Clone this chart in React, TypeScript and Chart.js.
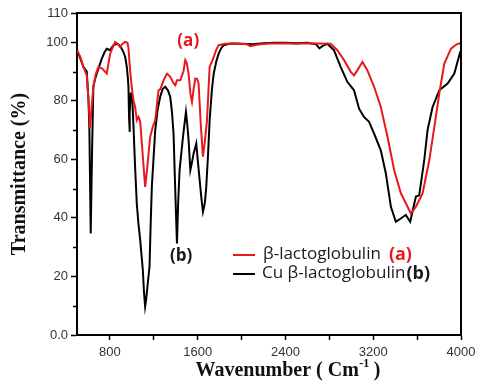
import React, { useEffect, useRef } from 'react';
import { Chart, registerables } from 'chart.js';

Chart.register(...registerables);

// β-lactoglobulin (a)
const wavenumberA = [
  500, 530, 558, 589, 605, 619, 634, 649, 670, 695, 730, 771, 802, 847, 870, 893, 915, 939, 960, 969,
  984, 999, 1015, 1030, 1045, 1060, 1076, 1098, 1121, 1140, 1152, 1167, 1190, 1213, 1243, 1260, 1289,
  1320, 1350, 1380, 1396, 1411, 1441, 1470, 1487, 1500, 1517, 1535, 1548, 1563, 1578, 1595, 1608, 1628,
  1648, 1665, 1685, 1700, 1709, 1725, 1746, 1770, 1791, 1850, 1950, 2050, 2080, 2150, 2250, 2400, 2500,
  2600, 2700, 2812, 2873, 2934, 2995, 3025, 3055, 3080, 3102, 3147, 3208, 3269, 3330, 3391, 3452, 3513,
  3543, 3589, 3650, 3711, 3757, 3802, 3848, 3909, 3960, 4000,
];
const transmittanceA = [
  97.3, 95, 91.6, 88.7, 80, 70.6, 78, 84.8, 89, 91.6, 91, 89.3, 96.1, 100.1, 99.5, 98.4, 99.5, 100.1, 99.8, 98,
  90.4, 84.8, 80, 77.9, 73.4, 74.5, 73, 62, 50.6, 57, 62, 67.7, 71, 73.4, 83.6, 84, 87,
  89.3, 88.2, 86, 85.3, 87, 87, 90, 93.9, 93, 89.3, 82, 79.6, 84, 87.6, 87.5, 85.9, 72,
  60.9, 66, 73.4, 85, 91.6, 93, 95, 97.5, 99, 99.5, 99.6, 99.3, 98.7, 99.2, 99.6, 99.7, 99.5,
  99.7, 99.6, 99.5, 97.3, 93.9, 89.9, 88.7, 90.4, 92, 93.3, 90.4, 84.8, 77.9, 67.7, 56.3, 48.4, 43.8,
  41.5, 43.8, 48.4, 59.7, 71.1, 82.5, 92.7, 97.8, 99.3, 99.8,
];

// Cu β-lactoglobulin (b)
const wavenumberB = [
  500, 530, 558, 589, 605, 613, 625, 637, 649, 665, 680, 700, 726, 750, 771, 802, 832, 863, 885, 908,
  925, 939, 954, 963, 969, 974, 978, 983, 990, 1000, 1007, 1015, 1030, 1045, 1060, 1076, 1100, 1110,
  1121, 1130, 1142, 1161, 1170, 1182, 1213, 1235, 1258, 1280, 1304, 1330, 1350, 1366, 1380, 1395, 1411,
  1422, 1435, 1466, 1493, 1505, 1517, 1533, 1548, 1563, 1587, 1600, 1618, 1633, 1648, 1665, 1678, 1695,
  1709, 1730, 1746, 1770, 1791, 1815, 1837, 1900, 2000, 2100, 2200, 2300, 2400, 2500, 2600, 2680, 2710,
  2740, 2782, 2842, 2903, 2964, 3025, 3071, 3116, 3162, 3208, 3269, 3315, 3361, 3406, 3452, 3497, 3537,
  3589, 3619, 3665, 3695, 3741, 3802, 3878, 3939, 3994, 4000,
];
const transmittanceB = [
  97.3, 94.5, 91.6, 90, 80, 70, 34.7, 62, 84.8, 87.5, 89.3, 91.5, 94.4, 96.5, 97.8, 97.3, 99, 99.5, 99, 97.8,
  96.5, 95, 91.6, 88, 84.8, 75, 69.4, 76, 82.5, 82.5, 78, 71.1, 57, 44.9, 38, 32.4, 22.2, 15,
  9.7, 12, 16.5, 23.3, 36, 50.6, 70, 77, 81.3, 84, 84.8, 83.5, 81.3, 76, 68.8, 50, 31.3,
  45, 56.3, 67.7, 76.2, 72, 66.6, 56.3, 59, 62, 65.4, 60, 52.9, 47, 42.1, 45, 50.6, 62,
  73.4, 84, 89.3, 93.5, 96.1, 98, 99, 99.6, 99.5, 99.3, 99.7, 99.8, 99.8, 99.7, 99.8, 99.3, 97.9,
  98.8, 99.5, 97.3, 91.6, 86.5, 83.6, 77.3, 74.5, 72.8, 68.8, 63.1, 55.2, 43.8, 38.7, 39.8, 41, 38.7,
  47.3, 47.7, 59.7, 70, 77.9, 83.6, 85.9, 89.3, 96.8, 97,
];

const xTickValues = [800, 1200, 1600, 2000, 2400, 2800, 3200, 3600, 4000];
const xLabelledTicks = [800, 1600, 2400, 3200, 4000];
const yTickValues = [0, 20, 40, 60, 80, 100, 110];
const yMinorTicks = [10, 30, 50, 70, 90];
const seriesLabels = ['β-lactoglobulin', 'Cu β-lactoglobulin'];
const seriesTags = ['(a)', '(b)'];
const xTitle = 'Wavenumber ( Cm';
const xTitleSup = '-1';
const yTitle = 'Transmittance (%)';

const RED = '#e8191e';
const BLACK = '#000000';

const decor = {
  id: 'decor',
  afterDraw(chart: any) {
    const { ctx, chartArea: a, scales } = chart;
    const xs = scales.x;
    const ys = scales.y;
    ctx.save();
    // frame top and right
    ctx.strokeStyle = '#000';
    ctx.lineWidth = 2;
    ctx.beginPath();
    ctx.moveTo(a.left, a.top);
    ctx.lineTo(a.right, a.top);
    ctx.lineTo(a.right, a.bottom);
    ctx.stroke();
    // minor y ticks
    ctx.lineWidth = 1.5;
    for (const v of yMinorTicks) {
      const py = Math.round(ys.getPixelForValue(v)) + 0.5;
      ctx.beginPath();
      ctx.moveTo(a.left - 4, py);
      ctx.lineTo(a.left, py);
      ctx.stroke();
    }
    // peak tags
    ctx.textAlign = 'center';
    ctx.textBaseline = 'middle';
    ctx.font = 'bold 17px "Open Sans"';
    ctx.fillStyle = RED;
    ctx.fillText(seriesTags[0], xs.getPixelForValue(1514), ys.getPixelForValue(100.3));
    ctx.fillStyle = '#1a1a1a';
    ctx.fillText(seriesTags[1], xs.getPixelForValue(1450), ys.getPixelForValue(27));

    // legend
    const lx = a.left + 156;
    const rows = [254, 273];
    const colors = [RED, BLACK];
    ctx.textAlign = 'left';
    for (let i = 0; i < 2; i++) {
      const ry = rows[i];
      ctx.strokeStyle = colors[i];
      ctx.lineWidth = 2;
      ctx.beginPath();
      ctx.moveTo(lx, ry + 1);
      ctx.lineTo(lx + 22, ry + 1);
      ctx.stroke();
      ctx.font = '17px "Open Sans"';
      ctx.fillStyle = '#1a1a1a';
      const tx = i === 0 ? lx + 30 : lx + 29;
      ctx.fillText(seriesLabels[i], tx, ry);
      const w = ctx.measureText(seriesLabels[i]).width;
      ctx.font = 'bold 18px "Open Sans"';
      ctx.fillStyle = i === 0 ? RED : '#1a1a1a';
      ctx.fillText(seriesTags[i], tx + w + (i === 0 ? 8 : 1), ry + 1);
    }

    // x title
    ctx.fillStyle = '#111';
    ctx.font = 'bold 20px "Liberation Serif"';
    const w1 = ctx.measureText(xTitle).width;
    ctx.font = 'bold 12px "Liberation Serif"';
    const w2 = ctx.measureText(xTitleSup).width;
    ctx.font = 'bold 20px "Liberation Serif"';
    const w3 = ctx.measureText(' )').width;
    const total = w1 + w2 + w3;
    const cx = 288;
    let x0 = cx - total / 2;
    const ty = 371;
    ctx.textAlign = 'left';
    ctx.fillText(xTitle, x0, ty);
    ctx.font = 'bold 12px "Liberation Serif"';
    ctx.fillText(xTitleSup, x0 + w1 + 0.5, ty - 7);
    ctx.font = 'bold 20px "Liberation Serif"';
    ctx.fillText(' )', x0 + w1 + w2, ty);
    ctx.restore();
  },
};

export default function App() {
  const ref = useRef<HTMLCanvasElement | null>(null);
  useEffect(() => {
    if (!ref.current) return;
    const chart = new Chart(ref.current, {
      type: 'line',
      data: {
        datasets: [
          {
            label: seriesLabels[0],
            data: wavenumberA.map((x, i) => ({ x, y: transmittanceA[i] })),
            borderColor: RED,
            borderWidth: 2,
            pointRadius: 0,
            tension: 0,
            fill: false,
          },
          {
            label: seriesLabels[1],
            data: wavenumberB.map((x, i) => ({ x, y: transmittanceB[i] })),
            borderColor: BLACK,
            borderWidth: 2,
            pointRadius: 0,
            tension: 0,
            fill: false,
          },
        ],
      },
      options: {
        responsive: false,
        animation: false,
        layout: { padding: { left: 0, right: 20, top: 13, bottom: 0 } },
        plugins: { legend: { display: false }, tooltip: { enabled: false } },
        scales: {
          x: {
            type: 'linear',
            min: 500,
            max: 4000,
            afterFit: (s: any) => { s.height = 55; },
            afterBuildTicks: (s: any) => { s.ticks = xTickValues.map((v) => ({ value: v })); },
            ticks: {
              callback: (v: any) => (xLabelledTicks.includes(Number(v)) ? String(v) : ''),
              font: { family: 'Liberation Sans', size: 13 },
              color: '#333',
              padding: 5,
              maxRotation: 0,
              autoSkip: false,
            },
            grid: { drawOnChartArea: false, drawTicks: true, tickLength: 5, tickColor: '#000', tickWidth: 1.5 },
            border: { color: '#000', width: 2 },
          },
          y: {
            type: 'linear',
            min: 0,
            max: 110,
            afterFit: (s: any) => { s.width = 77; },
            afterBuildTicks: (s: any) => { s.ticks = yTickValues.map((v) => ({ value: v })); },
            ticks: {
              callback: (v: any) => (Number(v) === 0 ? '0.0' : String(v)),
              font: { family: 'Liberation Sans', size: 13 },
              color: '#333',
              padding: 3,
              autoSkip: false,
            },
            grid: { drawOnChartArea: false, drawTicks: true, tickLength: 6, tickColor: '#000', tickWidth: 1.5 },
            border: { color: '#000', width: 2 },
            title: {
              display: true,
              text: yTitle,
              font: { family: 'Liberation Serif', size: 20, weight: 'bold' },
              color: '#111',
              padding: { top: 8, bottom: 0 },
            },
          },
        },
      },
      plugins: [decor],
    });
    return () => chart.destroy();
  }, []);
  return (
    <div style={{ position: 'fixed', left: 0, top: 0, width: 481, height: 390, background: '#fff' }}>
      <canvas ref={ref} width={481} height={390} style={{ width: 481, height: 390, display: 'block' }} />
    </div>
  );
}
